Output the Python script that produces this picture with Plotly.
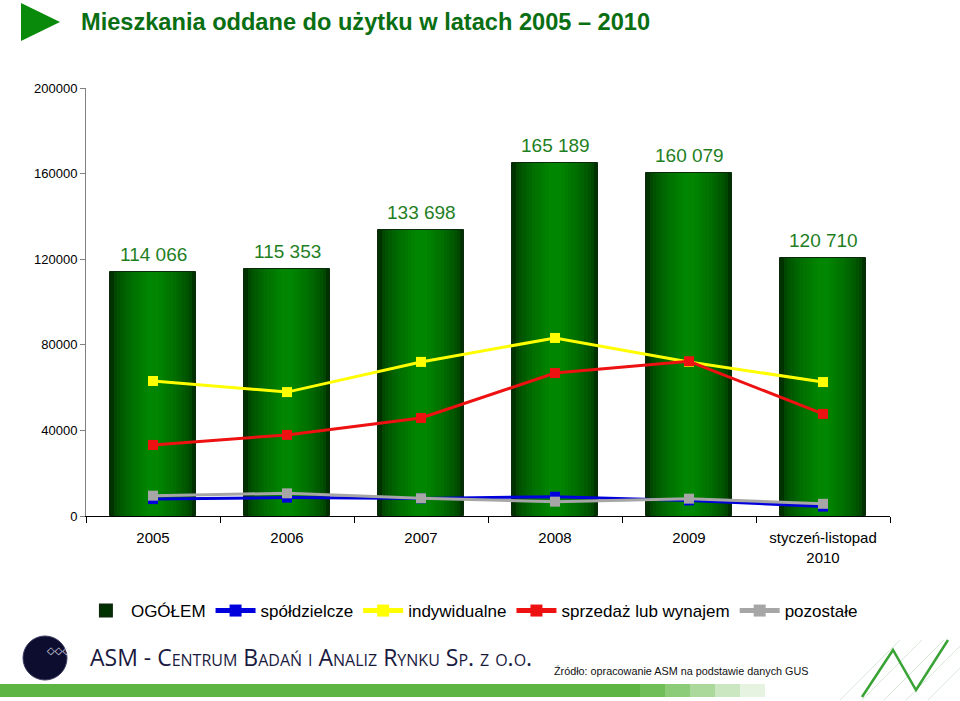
import plotly.graph_objects as go

# ---------------- data ----------------
categories = ["2005", "2006", "2007", "2008", "2009", "styczeń-listopad<br>2010"]
ogolem = [114066, 115353, 133698, 165189, 160079, 120710]
spoldzielcze = [7900, 8600, 8200, 9000, 7300, 4400]
indywidualne = [63100, 57900, 72000, 83200, 72000, 62600]
sprzedaz = [33200, 37900, 45800, 66800, 72300, 47700]
pozostale = [9500, 10600, 8300, 6700, 8100, 5700]
y_ticks = [0, 40000, 80000, 120000, 160000, 200000]

# ---------------- geometry helpers (pixel -> paper) ----------------
L, R, T, B = 86, 890, 88, 516
W, H = 960, 701
def px(x):
    return (x - L) / (R - L)
def py(y):
    return (B - y) / (B - T)

fig = go.Figure()

# gradient-like bars by overlaying narrower, lighter bars
bar_w = 0.635
n_layers = 12
dark = (0, 50, 0)
light = (0, 134, 0)
for k in range(n_layers):
    t = k / (n_layers - 1)
    f = t ** 0.55
    col = "rgb({},{},{})".format(
        int(dark[0] + (light[0] - dark[0]) * f),
        int(dark[1] + (light[1] - dark[1]) * f),
        int(dark[2] + (light[2] - dark[2]) * f),
    )
    w = bar_w * (1 - 0.85 * t)
    fig.add_trace(go.Bar(
        x=categories, y=ogolem, width=w,
        marker=dict(color=col,
                    line=dict(color="#0b2a0b", width=1 if k == 0 else 0)),
        name="OGÓŁEM", showlegend=(k == 0), legendrank=1,
        hoverinfo="skip" if k else None,
    ))

line_series = [
    ("spółdzielcze", spoldzielcze, "#0000DD", 2),
    ("indywidualne", indywidualne, "#FFFF00", 3),
    ("sprzedaż lub wynajem", sprzedaz, "#EE1111", 4),
    ("pozostałe", pozostale, "#A6A6A6", 5),
]
for name, vals, col, rank in line_series:
    fig.add_trace(go.Scatter(
        x=categories, y=vals, mode="lines+markers", name=name,
        line=dict(color=col, width=3),
        marker=dict(symbol="square", size=10, color=col),
        legendrank=rank,
    ))

# value labels above bars (x given as category index)
for i, v in enumerate(ogolem):
    fig.add_annotation(
        x=i, y=v, text="{:,}".format(v).replace(",", " "),
        showarrow=False, yanchor="bottom", yshift=5,
        font=dict(family="Liberation Sans, Arial", size=19, color="#1f7f1f"),
    )

# title + triangle icon
fig.add_shape(type="path", xref="paper", yref="paper",
              path="M {} {} L {} {} L {} {} Z".format(px(21), py(3), px(21), py(41), px(60), py(22)),
              fillcolor="#0a8a0a", line=dict(width=0))
fig.add_annotation(
    xref="paper", yref="paper", x=px(79), y=py(22), xanchor="left", yanchor="middle",
    text="<b>Mieszkania oddane do użytku w latach 2005 – 2010</b>", showarrow=False,
    font=dict(family="Liberation Sans, Arial", size=23.6, color="#0a6e12"),
)

# footer: logo
fig.add_shape(type="circle", xref="paper", yref="paper",
              x0=px(23), x1=px(67), y0=py(636), y1=py(680),
              fillcolor="#0d0d30", line=dict(color="#3a3a60", width=1))
fig.add_annotation(
    xref="paper", yref="paper", x=px(45), y=py(658), text="◇◇◇", showarrow=False,
    font=dict(family="DejaVu Sans", size=10, color="#e0e0f0"),
)
fig.add_annotation(
    xref="paper", yref="paper", x=px(88), y=py(657), xanchor="left", yanchor="middle",
    text="ASM - Centrum Badań i Analiz Rynku Sp. z o.o.", showarrow=False,
    font=dict(family="Open Sans, Lato", size=23, color="#1a1a40", variant="small-caps"),
)
fig.add_annotation(
    xref="paper", yref="paper", x=px(552), y=py(671), xanchor="left", yanchor="middle",
    text="Źródło: opracowanie ASM na podstawie danych GUS", showarrow=False,
    font=dict(family="Liberation Sans Narrow, Liberation Sans", size=10.8, color="#111111"),
)
# green band
band_cols = ["#5db544", "#6fbe58", "#8ccb78", "#abd99c", "#cbe7c1", "#e6f3e1"]
fig.add_shape(type="rect", xref="paper", yref="paper",
              x0=px(0), x1=px(640), y0=py(697), y1=py(684),
              fillcolor=band_cols[0], line=dict(width=0), layer="below")
for i, bc in enumerate(band_cols[1:]):
    fig.add_shape(type="rect", xref="paper", yref="paper",
                  x0=px(640 + i * 25), x1=px(665 + i * 25), y0=py(697), y1=py(684),
                  fillcolor=bc, line=dict(width=0), layer="below")
# decorative grid + zigzag
for i in range(5):
    fig.add_shape(type="line", xref="paper", yref="paper",
                  x0=px(840 + i * 22), y0=py(700), x1=px(900 + i * 22), y1=py(640),
                  line=dict(color="#d8e8d8", width=1))
fig.add_shape(type="path", xref="paper", yref="paper",
              path="M {} {} L {} {} L {} {} L {} {}".format(
                  px(862), py(697), px(893), py(650), px(916), py(690), px(948), py(640)),
              line=dict(color="#3aa336", width=2.5))

fig.update_layout(
    width=W, height=H,
    margin=dict(l=L, r=W - R, t=T, b=H - B, pad=0),
    paper_bgcolor="white", plot_bgcolor="white",
    barmode="overlay", bargap=0,
    font=dict(family="Liberation Sans, Arial", color="#000000"),
    showlegend=True,
    legend=dict(orientation="h", x=0.48, xanchor="center", y=py(611), yanchor="middle",
                font=dict(size=17, color="#000000"), itemsizing="constant",
                itemwidth=40, bgcolor="rgba(0,0,0,0)", tracegroupgap=0),
    xaxis=dict(type="category", range=[-0.5, 5.5], showline=True, linecolor="#000000",
               linewidth=1, ticks="outside", tickson="boundaries", ticklen=6,
               tickcolor="#000000", tickfont=dict(size=15), showgrid=False,
               ticklabelstandoff=8, fixedrange=True),
    yaxis=dict(range=[0, 200000], tickvals=y_ticks, tickformat="d", showline=True,
               linecolor="#808080", linewidth=1, ticks="outside", ticklen=5,
               tickcolor="#808080", tickfont=dict(size=13), showgrid=False,
               zeroline=False, fixedrange=True),
)

fig.write_html("out.html")
